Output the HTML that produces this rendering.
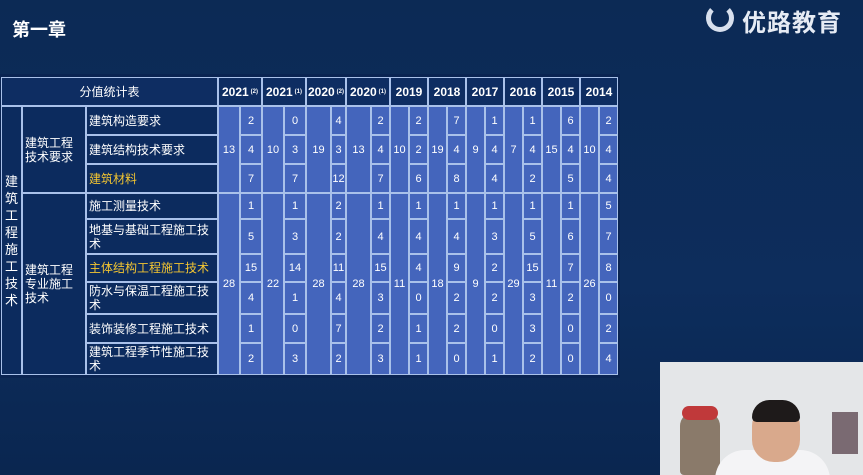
<!DOCTYPE html>
<html><head><meta charset="utf-8"><style>
body{margin:0;width:863px;height:475px;overflow:hidden;background:linear-gradient(180deg,#0c2a55 0%,#0d2d5c 60%,#0a2650 100%);font-family:"Liberation Sans","Noto Sans CJK SC",sans-serif;position:relative}
.c{position:absolute;box-sizing:border-box;border:1px solid #a9c1ea;display:flex;align-items:center;justify-content:center;color:#fff;font-size:11px;text-align:center}
.h{background:#0e2d62;font-weight:bold;font-size:12px}
.l{background:#0c2b5e;justify-content:flex-start;text-align:left;font-size:12px;line-height:14px;padding-left:2px}
.b{background:#4465bc}
.y{color:#f3c531}
sub{font-size:6px;vertical-align:baseline;margin-left:2px}
</style></head><body>
<div style="position:absolute;left:12px;top:16px;color:#fff;font-size:18px;font-weight:bold;font-family:'Noto Sans CJK SC',sans-serif">第一章</div>
<div style="position:absolute;left:706px;top:4px;width:28px;height:28px;border-radius:50%;border:5px solid #d8e0ee;border-top-color:transparent;box-sizing:border-box"></div>
<div style="position:absolute;left:742px;top:3px;color:#e6ebf4;font-size:24px;font-weight:bold;font-family:'Noto Sans CJK SC',sans-serif;letter-spacing:1px">优路教育</div>
<div style="position:absolute;left:0;top:74px;width:620px;height:304px;background:#0a2452"></div>
<div class="c h" style="left:1px;top:77px;width:217px;height:29px;font-weight:normal;font-size:12px">分值统计表</div>
<div class="c l" style="left:1px;top:106px;width:21px;height:269px;font-size:13px;line-height:17px;justify-content:center;padding:0">建<br>筑<br>工<br>程<br>施<br>工<br>技<br>术</div>
<div class="c l" style="left:22px;top:106px;width:64px;height:87px">建筑工程<br>技术要求</div>
<div class="c l" style="left:22px;top:193px;width:64px;height:182px">建筑工程<br>专业施工<br>技术</div>
<div class="c l" style="left:86px;top:106px;width:132px;height:29px">建筑构造要求</div>
<div class="c l" style="left:86px;top:135px;width:132px;height:29px">建筑结构技术要求</div>
<div class="c l y" style="left:86px;top:164px;width:132px;height:29px">建筑材料</div>
<div class="c l" style="left:86px;top:193px;width:132px;height:26px">施工测量技术</div>
<div class="c l" style="left:86px;top:219px;width:132px;height:35px">地基与基础工程施工技术</div>
<div class="c l y" style="left:86px;top:254px;width:132px;height:28px">主体结构工程施工技术</div>
<div class="c l" style="left:86px;top:282px;width:132px;height:32px">防水与保温工程施工技术</div>
<div class="c l" style="left:86px;top:314px;width:132px;height:29px">装饰装修工程施工技术</div>
<div class="c l" style="left:86px;top:343px;width:132px;height:32px">建筑工程季节性施工技术</div>

<div class="c h" style="left:218px;top:77px;width:44px;height:29px">2021<sub>(2)</sub></div>
<div class="c b" style="left:218px;top:106px;width:22px;height:87px">13</div>
<div class="c b" style="left:218px;top:193px;width:22px;height:182px">28</div>
<div class="c b" style="left:240px;top:106px;width:22px;height:29px">2</div>
<div class="c b" style="left:240px;top:135px;width:22px;height:29px">4</div>
<div class="c b" style="left:240px;top:164px;width:22px;height:29px">7</div>
<div class="c b" style="left:240px;top:193px;width:22px;height:26px">1</div>
<div class="c b" style="left:240px;top:219px;width:22px;height:35px">5</div>
<div class="c b" style="left:240px;top:254px;width:22px;height:28px">15</div>
<div class="c b" style="left:240px;top:282px;width:22px;height:32px">4</div>
<div class="c b" style="left:240px;top:314px;width:22px;height:29px">1</div>
<div class="c b" style="left:240px;top:343px;width:22px;height:32px">2</div>
<div class="c h" style="left:262px;top:77px;width:44px;height:29px">2021<sub>(1)</sub></div>
<div class="c b" style="left:262px;top:106px;width:22px;height:87px">10</div>
<div class="c b" style="left:262px;top:193px;width:22px;height:182px">22</div>
<div class="c b" style="left:284px;top:106px;width:22px;height:29px">0</div>
<div class="c b" style="left:284px;top:135px;width:22px;height:29px">3</div>
<div class="c b" style="left:284px;top:164px;width:22px;height:29px">7</div>
<div class="c b" style="left:284px;top:193px;width:22px;height:26px">1</div>
<div class="c b" style="left:284px;top:219px;width:22px;height:35px">3</div>
<div class="c b" style="left:284px;top:254px;width:22px;height:28px">14</div>
<div class="c b" style="left:284px;top:282px;width:22px;height:32px">1</div>
<div class="c b" style="left:284px;top:314px;width:22px;height:29px">0</div>
<div class="c b" style="left:284px;top:343px;width:22px;height:32px">3</div>
<div class="c h" style="left:306px;top:77px;width:40px;height:29px">2020<sub>(2)</sub></div>
<div class="c b" style="left:306px;top:106px;width:25px;height:87px">19</div>
<div class="c b" style="left:306px;top:193px;width:25px;height:182px">28</div>
<div class="c b" style="left:331px;top:106px;width:15px;height:29px">4</div>
<div class="c b" style="left:331px;top:135px;width:15px;height:29px">3</div>
<div class="c b" style="left:331px;top:164px;width:15px;height:29px">12</div>
<div class="c b" style="left:331px;top:193px;width:15px;height:26px">2</div>
<div class="c b" style="left:331px;top:219px;width:15px;height:35px">2</div>
<div class="c b" style="left:331px;top:254px;width:15px;height:28px">11</div>
<div class="c b" style="left:331px;top:282px;width:15px;height:32px">4</div>
<div class="c b" style="left:331px;top:314px;width:15px;height:29px">7</div>
<div class="c b" style="left:331px;top:343px;width:15px;height:32px">2</div>
<div class="c h" style="left:346px;top:77px;width:44px;height:29px">2020<sub>(1)</sub></div>
<div class="c b" style="left:346px;top:106px;width:25px;height:87px">13</div>
<div class="c b" style="left:346px;top:193px;width:25px;height:182px">28</div>
<div class="c b" style="left:371px;top:106px;width:19px;height:29px">2</div>
<div class="c b" style="left:371px;top:135px;width:19px;height:29px">4</div>
<div class="c b" style="left:371px;top:164px;width:19px;height:29px">7</div>
<div class="c b" style="left:371px;top:193px;width:19px;height:26px">1</div>
<div class="c b" style="left:371px;top:219px;width:19px;height:35px">4</div>
<div class="c b" style="left:371px;top:254px;width:19px;height:28px">15</div>
<div class="c b" style="left:371px;top:282px;width:19px;height:32px">3</div>
<div class="c b" style="left:371px;top:314px;width:19px;height:29px">2</div>
<div class="c b" style="left:371px;top:343px;width:19px;height:32px">3</div>
<div class="c h" style="left:390px;top:77px;width:38px;height:29px">2019</div>
<div class="c b" style="left:390px;top:106px;width:19px;height:87px">10</div>
<div class="c b" style="left:390px;top:193px;width:19px;height:182px">11</div>
<div class="c b" style="left:409px;top:106px;width:19px;height:29px">2</div>
<div class="c b" style="left:409px;top:135px;width:19px;height:29px">2</div>
<div class="c b" style="left:409px;top:164px;width:19px;height:29px">6</div>
<div class="c b" style="left:409px;top:193px;width:19px;height:26px">1</div>
<div class="c b" style="left:409px;top:219px;width:19px;height:35px">4</div>
<div class="c b" style="left:409px;top:254px;width:19px;height:28px">4</div>
<div class="c b" style="left:409px;top:282px;width:19px;height:32px">0</div>
<div class="c b" style="left:409px;top:314px;width:19px;height:29px">1</div>
<div class="c b" style="left:409px;top:343px;width:19px;height:32px">1</div>
<div class="c h" style="left:428px;top:77px;width:38px;height:29px">2018</div>
<div class="c b" style="left:428px;top:106px;width:19px;height:87px">19</div>
<div class="c b" style="left:428px;top:193px;width:19px;height:182px">18</div>
<div class="c b" style="left:447px;top:106px;width:19px;height:29px">7</div>
<div class="c b" style="left:447px;top:135px;width:19px;height:29px">4</div>
<div class="c b" style="left:447px;top:164px;width:19px;height:29px">8</div>
<div class="c b" style="left:447px;top:193px;width:19px;height:26px">1</div>
<div class="c b" style="left:447px;top:219px;width:19px;height:35px">4</div>
<div class="c b" style="left:447px;top:254px;width:19px;height:28px">9</div>
<div class="c b" style="left:447px;top:282px;width:19px;height:32px">2</div>
<div class="c b" style="left:447px;top:314px;width:19px;height:29px">2</div>
<div class="c b" style="left:447px;top:343px;width:19px;height:32px">0</div>
<div class="c h" style="left:466px;top:77px;width:38px;height:29px">2017</div>
<div class="c b" style="left:466px;top:106px;width:19px;height:87px">9</div>
<div class="c b" style="left:466px;top:193px;width:19px;height:182px">9</div>
<div class="c b" style="left:485px;top:106px;width:19px;height:29px">1</div>
<div class="c b" style="left:485px;top:135px;width:19px;height:29px">4</div>
<div class="c b" style="left:485px;top:164px;width:19px;height:29px">4</div>
<div class="c b" style="left:485px;top:193px;width:19px;height:26px">1</div>
<div class="c b" style="left:485px;top:219px;width:19px;height:35px">3</div>
<div class="c b" style="left:485px;top:254px;width:19px;height:28px">2</div>
<div class="c b" style="left:485px;top:282px;width:19px;height:32px">2</div>
<div class="c b" style="left:485px;top:314px;width:19px;height:29px">0</div>
<div class="c b" style="left:485px;top:343px;width:19px;height:32px">1</div>
<div class="c h" style="left:504px;top:77px;width:38px;height:29px">2016</div>
<div class="c b" style="left:504px;top:106px;width:19px;height:87px">7</div>
<div class="c b" style="left:504px;top:193px;width:19px;height:182px">29</div>
<div class="c b" style="left:523px;top:106px;width:19px;height:29px">1</div>
<div class="c b" style="left:523px;top:135px;width:19px;height:29px">4</div>
<div class="c b" style="left:523px;top:164px;width:19px;height:29px">2</div>
<div class="c b" style="left:523px;top:193px;width:19px;height:26px">1</div>
<div class="c b" style="left:523px;top:219px;width:19px;height:35px">5</div>
<div class="c b" style="left:523px;top:254px;width:19px;height:28px">15</div>
<div class="c b" style="left:523px;top:282px;width:19px;height:32px">3</div>
<div class="c b" style="left:523px;top:314px;width:19px;height:29px">3</div>
<div class="c b" style="left:523px;top:343px;width:19px;height:32px">2</div>
<div class="c h" style="left:542px;top:77px;width:38px;height:29px">2015</div>
<div class="c b" style="left:542px;top:106px;width:19px;height:87px">15</div>
<div class="c b" style="left:542px;top:193px;width:19px;height:182px">11</div>
<div class="c b" style="left:561px;top:106px;width:19px;height:29px">6</div>
<div class="c b" style="left:561px;top:135px;width:19px;height:29px">4</div>
<div class="c b" style="left:561px;top:164px;width:19px;height:29px">5</div>
<div class="c b" style="left:561px;top:193px;width:19px;height:26px">1</div>
<div class="c b" style="left:561px;top:219px;width:19px;height:35px">6</div>
<div class="c b" style="left:561px;top:254px;width:19px;height:28px">7</div>
<div class="c b" style="left:561px;top:282px;width:19px;height:32px">2</div>
<div class="c b" style="left:561px;top:314px;width:19px;height:29px">0</div>
<div class="c b" style="left:561px;top:343px;width:19px;height:32px">0</div>
<div class="c h" style="left:580px;top:77px;width:38px;height:29px">2014</div>
<div class="c b" style="left:580px;top:106px;width:19px;height:87px">10</div>
<div class="c b" style="left:580px;top:193px;width:19px;height:182px">26</div>
<div class="c b" style="left:599px;top:106px;width:19px;height:29px">2</div>
<div class="c b" style="left:599px;top:135px;width:19px;height:29px">4</div>
<div class="c b" style="left:599px;top:164px;width:19px;height:29px">4</div>
<div class="c b" style="left:599px;top:193px;width:19px;height:26px">5</div>
<div class="c b" style="left:599px;top:219px;width:19px;height:35px">7</div>
<div class="c b" style="left:599px;top:254px;width:19px;height:28px">8</div>
<div class="c b" style="left:599px;top:282px;width:19px;height:32px">0</div>
<div class="c b" style="left:599px;top:314px;width:19px;height:29px">2</div>
<div class="c b" style="left:599px;top:343px;width:19px;height:32px">4</div>

<div style="position:absolute;left:660px;top:362px;width:203px;height:113px;background:#e4e6e8;overflow:hidden">
 <div style="position:absolute;left:20px;top:50px;width:40px;height:63px;background:#8a7a6a;border-radius:14px 14px 4px 4px"></div>
 <div style="position:absolute;left:22px;top:44px;width:36px;height:14px;background:#c0393a;border-radius:10px"></div>
 <div style="position:absolute;left:55px;top:88px;width:115px;height:40px;background:#f4f4f6;border-radius:30px 30px 0 0"></div>
 <div style="position:absolute;left:92px;top:42px;width:48px;height:58px;background:#d9a98c;border-radius:22px"></div>
 <div style="position:absolute;left:92px;top:38px;width:48px;height:22px;background:#1e1a1a;border-radius:22px 22px 6px 6px"></div>
 <div style="position:absolute;left:172px;top:50px;width:26px;height:42px;background:#7a6a72"></div>
</div>
</body></html>
